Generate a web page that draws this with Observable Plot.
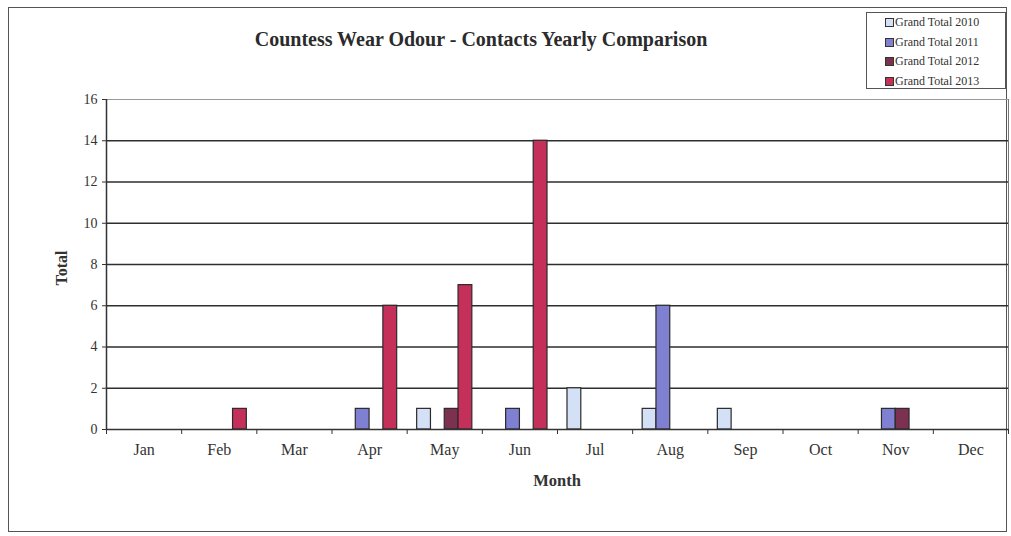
<!DOCTYPE html>
<html>
<head>
<meta charset="utf-8">
<script src="https://cdn.jsdelivr.net/npm/d3@7"></script>
<script src="https://cdn.jsdelivr.net/npm/@observablehq/plot@0.6"></script>
<style>
  html, body { margin: 0; padding: 0; background: #fff; }
  #wrap { position: relative; width: 1011px; height: 536px; font-family: "Liberation Serif", "DejaVu Serif", serif; color: #333; }
  #border { position: absolute; left: 8px; top: 7px; width: 999px; height: 525px; border: 1.5px solid #555; box-sizing: border-box; }
  #title { position: absolute; left: 0; width: 962px; top: 28px; text-align: center; font-weight: bold; font-size: 20px; color: #2b2b2b; }
  #legend { position: absolute; left: 866px; top: 12px; width: 140px; height: 77px; border: 1px solid #555; box-sizing: border-box; background: #fff; font-size: 12px; color: #333; padding-top: 0px; }
  .item { display: flex; align-items: center; height: 19.5px; padding-left: 18px; }
  .sw { width: 7px; height: 7px; border: 1px solid #333; margin-right: 1px; }
  #xlabel { position: absolute; left: 106px; width: 902px; top: 471px; text-align: center; font-weight: bold; font-size: 16.5px; color: #333; }
  #ylabel { position: absolute; left: 62px; top: 268px; transform: translate(-50%, -50%) rotate(-90deg); font-weight: bold; font-size: 16px; color: #333; white-space: nowrap; }
  svg { position: absolute; left: 0; top: 0; }
</style>
</head>
<body>
<div id="wrap">
  <div id="border"></div>
  <div id="title">Countess Wear Odour - Contacts Yearly Comparison</div>
  <div id="xlabel">Month</div>
  <div id="ylabel">Total</div>
  <div id="legend"></div>
</div>
<script>
const months = ["Jan","Feb","Mar","Apr","May","Jun","Jul","Aug","Sep","Oct","Nov","Dec"];
const seriesNames = ["Grand Total 2010","Grand Total 2011","Grand Total 2012","Grand Total 2013"];
const seriesColors = ["#d3e0f6","#7f80d2","#7c3150","#c4305a"];
const total2010 = [0,0,0,0,1,0,2,1,1,0,0,0];
const total2011 = [0,0,0,1,0,1,0,6,0,0,1,0];
const total2012 = [0,0,0,0,1,0,0,0,0,0,1,0];
const total2013 = [0,1,0,6,7,14,0,0,0,0,0,0];
const yTicks = [0,2,4,6,8,10,12,14,16];

const seriesValues = [total2010, total2011, total2012, total2013];
const groupPad = 0.133;           // fraction of a month band left empty on each side
const barW = (1 - 2 * groupPad) / seriesNames.length;

const rows = [];
seriesValues.forEach((vals, s) => {
  vals.forEach((v, m) => {
    if (v > 0) rows.push({month: months[m], mi: m, series: seriesNames[s], si: s, value: v});
  });
});

const legend = document.getElementById("legend");
seriesNames.forEach((n, i) => {
  const d = document.createElement("div");
  d.className = "item";
  d.innerHTML = `<span class="sw" style="background:${seriesColors[i]}"></span><span>${n}</span>`;
  legend.appendChild(d);
});

const chart = Plot.plot({
  width: 1011,
  height: 536,
  marginLeft: 106,
  marginRight: 3,
  marginTop: 99,
  marginBottom: 107,
  style: { fontFamily: "Liberation Serif, serif", fontSize: "15px", color: "#333", background: "transparent" },
  x: { type: "linear", domain: [0, 12], axis: null },
  y: { domain: [0, 16], axis: null },
  color: { domain: seriesNames, range: seriesColors },
  marks: [
    Plot.ruleY(yTicks.filter(t => t > 0 && t < 16), { stroke: "#2e2e2e", strokeWidth: 1.5 }),
    Plot.ruleY([16], { stroke: "#999", strokeWidth: 1 }),
    Plot.ruleX([12], { stroke: "#777", strokeWidth: 1 }),
    Plot.rectY(rows, {
      x1: d => d.mi + groupPad + d.si * barW,
      x2: d => d.mi + groupPad + (d.si + 1) * barW,
      y1: 0,
      y2: "value",
      fill: "series",
      stroke: "#2a2a2a",
      strokeWidth: 1.2
    }),
    Plot.axisY({ ticks: yTicks, tickSize: 4, tickPadding: 5, label: null, fontSize: 14, stroke: "#333" }),
    Plot.axisX({ ticks: d3.range(0, 13), tickFormat: () => "", tickSize: 5, label: null, stroke: "#333" }),
    Plot.axisX({ ticks: months.map((_, i) => i + 0.5), tickFormat: t => months[Math.floor(t)], tickSize: 0, tickPadding: 14, label: null, fontSize: 16 }),
    Plot.ruleY([0], { stroke: "#333", strokeWidth: 1.5 }),
    Plot.ruleX([0], { stroke: "#333", strokeWidth: 1.5 })
  ]
});
document.getElementById("wrap").insertBefore(chart, document.getElementById("title"));
</script>
</body>
</html>
